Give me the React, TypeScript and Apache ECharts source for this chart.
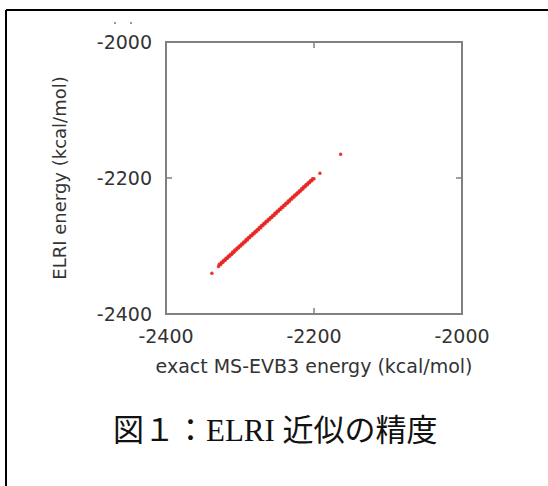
import React, { useEffect, useRef } from "react";
import * as echarts from "echarts";

const xTicks = [-2400, -2200, -2000];
const xTitle = "exact MS-EVB3 energy (kcal/mol)";
const yTitle = "ELRI energy (kcal/mol)";
const caption = "図１：ELRI 近似の精度";

const exactEnergy = [
  -2338, -2329, -2328, -2326, -2325, -2323, -2322, -2320, -2319, -2317, -2316, -2314,
  -2313, -2311, -2310, -2308, -2307, -2305, -2304, -2302, -2301, -2299, -2298, -2296,
  -2295, -2293, -2292, -2290, -2289, -2287, -2286, -2284, -2283, -2281, -2280, -2278,
  -2277, -2275, -2274, -2272, -2271, -2269, -2268, -2266, -2265, -2263, -2262, -2260,
  -2259, -2257, -2256, -2254, -2253, -2251, -2250, -2248, -2247, -2245, -2244, -2242,
  -2241, -2239, -2238, -2236, -2235, -2233, -2232, -2230, -2229, -2227, -2226, -2224,
  -2223, -2221, -2220, -2218, -2217, -2215, -2214, -2212, -2211, -2209, -2208, -2206,
  -2205, -2203, -2202, -2200, -2192, -2164,
];
const elriEnergy = [
  -2340, -2330, -2327, -2327, -2324, -2324, -2321, -2321, -2318, -2318, -2315, -2315,
  -2312, -2312, -2309, -2309, -2306, -2306, -2303, -2303, -2300, -2300, -2297, -2297,
  -2294, -2294, -2291, -2291, -2288, -2288, -2285, -2285, -2282, -2282, -2279, -2279,
  -2276, -2276, -2273, -2273, -2270, -2270, -2267, -2267, -2264, -2264, -2261, -2261,
  -2258, -2258, -2255, -2255, -2252, -2252, -2249, -2249, -2246, -2246, -2243, -2243,
  -2240, -2240, -2237, -2237, -2234, -2234, -2231, -2231, -2228, -2228, -2225, -2225,
  -2222, -2222, -2219, -2219, -2216, -2216, -2213, -2213, -2210, -2210, -2207, -2207,
  -2204, -2204, -2201, -2201, -2193, -2165,
];

export default function App() {
  const ref = useRef<HTMLDivElement>(null);
  useEffect(() => {
    if (!ref.current) return;
    const chart = echarts.init(ref.current, null, { renderer: "svg" });
    const points = exactEnergy.map((x, i) => [x, elriEnergy[i]]);
    const axisColor = "#808080";
    const labelFont = "'DejaVu Sans', sans-serif";
    const plain = (v: number) => String(v);
    const baseAxis = {
      type: "value" as const,
      min: xTicks[0],
      max: xTicks[xTicks.length - 1],
      interval: 200,
      splitLine: { show: false },
      axisLine: { show: true, onZero: false, lineStyle: { color: axisColor, width: 2 } },
      axisTick: { show: true, inside: true, length: 6, lineStyle: { color: axisColor, width: 1.5 } },
    };
    chart.setOption({
      animation: false,
      backgroundColor: "#ffffff",
      grid: { left: 166, right: 86, top: 42, bottom: 172 },
      xAxis: [
        {
          ...baseAxis,
          position: "bottom",
          axisLabel: { fontFamily: labelFont, fontSize: 19, color: "#333", margin: 12, formatter: plain },
          name: xTitle,
          nameLocation: "middle",
          nameGap: 42,
          nameTextStyle: { fontFamily: labelFont, fontSize: 19, color: "#333" },
        },
        { ...baseAxis, position: "top", axisLabel: { show: false } },
      ],
      yAxis: [
        {
          ...baseAxis,
          position: "left",
          axisLabel: { fontFamily: labelFont, fontSize: 19, color: "#333", margin: 14, formatter: plain },
          name: yTitle,
          nameLocation: "middle",
          nameGap: 98,
          nameTextStyle: { fontFamily: labelFont, fontSize: 18, color: "#333" },
        },
        { ...baseAxis, position: "right", axisLabel: { show: false } },
      ],
      series: [
        {
          type: "scatter",
          data: points,
          symbol: "circle",
          symbolSize: 3.5,
          itemStyle: { color: "#e52420", opacity: 0.9 },
        },
      ],
      graphic: [
        { type: "line", shape: { x1: 6, y1: 10, x2: 548, y2: 10 }, style: { stroke: "#000", lineWidth: 2 } },
        { type: "line", shape: { x1: 6, y1: 10, x2: 6, y2: 486 }, style: { stroke: "#000", lineWidth: 2 } },
        { type: "rect", shape: { x: 114, y: 22, width: 2, height: 2 }, style: { fill: "#999" } },
        { type: "rect", shape: { x: 130, y: 22, width: 2, height: 2 }, style: { fill: "#999" } },
        {
          type: "text",
          x: 113,
          y: 430,
          style: {
            text: caption,
            font: "31px 'Liberation Serif', 'Noto Sans CJK JP', serif",
            fill: "#111",
            verticalAlign: "middle",
          },
        },
      ],
    });
    return () => chart.dispose();
  }, []);
  return (
    <div
      ref={ref}
      style={{ position: "absolute", left: 0, top: 0, width: 548, height: 486, background: "#fff" }}
    />
  );
}
